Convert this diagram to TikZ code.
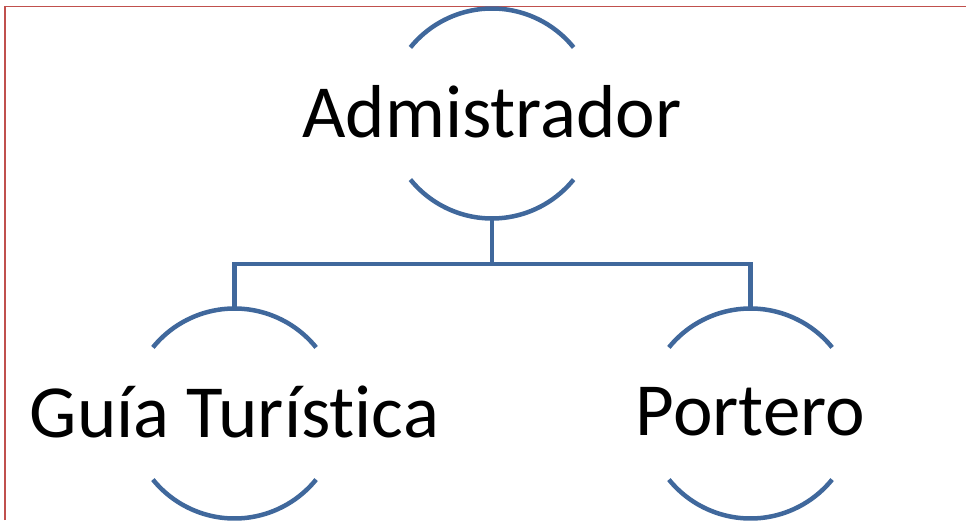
\documentclass[tikz,border=0pt]{standalone}
\usepackage{fontspec}
\setmainfont{Carlito}[Ligatures=NoCommon]
\usepackage{xcolor}
\usepackage{tikz}
\usetikzlibrary{positioning}
\definecolor{ramablue}{RGB}{64, 104, 156}
\definecolor{marcored}{RGB}{192, 80, 77}

\begin{document}
\begin{tikzpicture}[
  x=1pt, y=1pt,
  every node/.style={font=\fontsize{75}{80}\selectfont},
  every label/.style={inner sep=0pt, yshift=2pt},
  unit/.style={circle, minimum size=210pt, inner sep=0pt, outer sep=0pt},
  arco/.style={draw=ramablue, line width=4.5pt},
  link/.style={draw=ramablue, line width=4.5pt},
  frame/.style={draw=marcored, line width=1.5pt}
]
  \useasboundingbox (0,0) rectangle (966,520);
  \draw[frame] (5,0) -- (5,513.5) -- (966,513.5);

  % Cargos
  \node[unit, label=center:Admistrador] (admin) at (492,406.5) {};
  \node[unit, label=center:Guía Turística] (guia) at (234.5,106.5) {};
  \node[unit, label=center:Portero] (portero) at (750.5,106.5) {};

  % Arcos
  \foreach \n in {admin, guia, portero} {
    \draw[arco] (\n.39) arc[start angle=39, end angle=141, radius=105];
    \draw[arco] (\n.-141) arc[start angle=-141, end angle=-39, radius=105];
  }

  \draw[link] (admin.south) -- ++(0,-45.5) coordinate (nudo) -| (guia.north);
  \draw[link] (nudo) -| (portero.north);

\end{tikzpicture}
\end{document}
